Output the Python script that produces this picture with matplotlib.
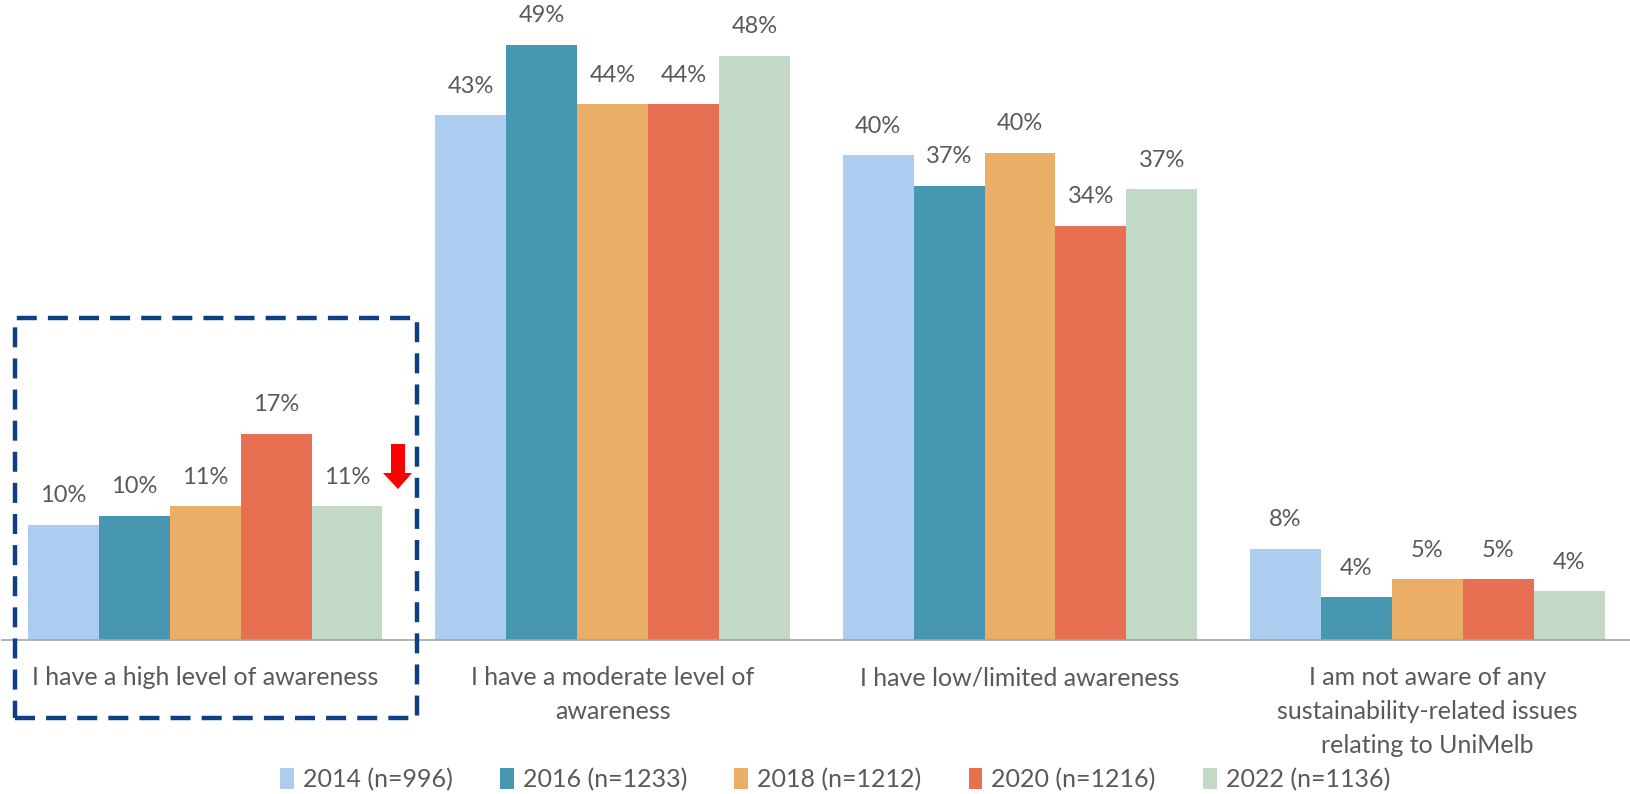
import numpy as np
import matplotlib.pyplot as plt
from matplotlib.patches import Rectangle, Polygon

plt.rcParams['font.family'] = ['Lato', 'DejaVu Sans']

# データ
categories = ['I have a high level of awareness',
              'I have a moderate level of\nawareness',
              'I have low/limited awareness',
              'I am not aware of any\nsustainability-related issues\nrelating to UniMelb']
series_names = ['2014 (n=996)', '2016 (n=1233)', '2018 (n=1212)', '2020 (n=1216)', '2022 (n=1136)']
v2014 = [9.5, 43.2, 39.9, 7.5]
v2016 = [10.2, 49.0, 37.4, 3.5]
v2018 = [11.0, 44.1, 40.1, 5.0]
v2020 = [17.0, 44.1, 34.1, 5.0]
v2022 = [11.0, 48.1, 37.1, 4.0]
labels2014 = ['10%', '43%', '40%', '8%']
labels2016 = ['10%', '49%', '37%', '4%']
labels2018 = ['11%', '44%', '40%', '5%']
labels2020 = ['17%', '44%', '34%', '5%']
labels2022 = ['11%', '48%', '37%', '4%']

values = [v2014, v2016, v2018, v2020, v2022]
labels = [labels2014, labels2016, labels2018, labels2020, labels2022]
colors = ['#ADCDF0', '#4697AF', '#EBAE66', '#E77052', '#C2D9C8']

W, H = 1631, 794
fig = plt.figure(figsize=(W / 100, H / 100), dpi=100)
ax = fig.add_axes([0.001, 1 - 640 / H, 0.999, 640 / H])

x = np.arange(len(categories))
bw = 0.174
text_color = '#595959'
for i, (vals, labs, c, name) in enumerate(zip(values, labels, colors, series_names)):
    pos = x + (i - 2) * bw
    bars = ax.bar(pos, vals, width=bw, color=c, label=name)
    for b, lab in zip(bars, labs):
        ax.annotate(lab, (b.get_x() + b.get_width() / 2, b.get_height()),
                    xytext=(0, 13.5), textcoords='offset points',
                    ha='center', va='bottom', fontsize=17, color=text_color)

ax.set_xlim(-0.5, len(categories) - 0.5)
ax.set_ylim(0, 52.7)
ax.set_xticks(x)
ax.set_xticklabels(categories, fontsize=18, color=text_color, linespacing=1.57)
ax.tick_params(axis='x', length=0, pad=19)
ax.set_yticks([])
for s in ['top', 'right', 'left']:
    ax.spines[s].set_visible(False)
ax.spines['bottom'].set_color('#A6A6A6')
ax.spines['bottom'].set_linewidth(1.2)

leg = fig.legend(loc='lower center', bbox_to_anchor=(0.512, -0.025), ncol=5,
                 frameon=False, fontsize=18, handlelength=0.55, handleheight=0.9,
                 handletextpad=0.35, columnspacing=1.9)
for t in leg.get_texts():
    t.set_color(text_color)

# 強調用の破線枠
def px(xp, yp):
    return (xp / W, 1 - yp / H)

box = Rectangle(px(15, 718), (417 - 15) / W, (718 - 318) / H, transform=fig.transFigure,
                fill=False, edgecolor='#0E3F83', linewidth=3.2, linestyle=(0, (4.5, 2.5)))
fig.add_artist(box)

# 赤い下向き矢印
arrow_pts = [px(391, 444), px(405, 444), px(405, 473), px(412, 473),
             px(398, 489), px(383, 473), px(391, 473)]
fig.add_artist(Polygon(arrow_pts, closed=True, transform=fig.transFigure,
                       facecolor='#FF0000', edgecolor='none'))

fig.savefig('out.png', dpi=100)
